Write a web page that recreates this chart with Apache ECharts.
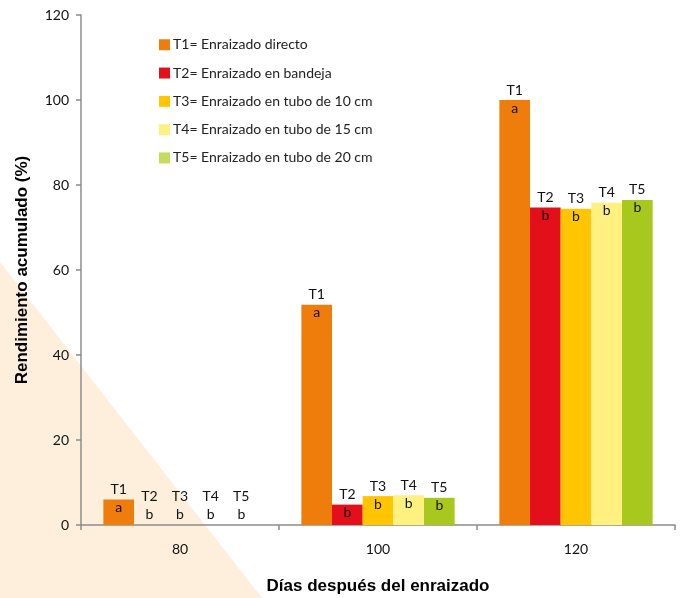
<!DOCTYPE html>
<html>
<head>
<meta charset="utf-8">
<script src="https://cdn.jsdelivr.net/npm/echarts@6/dist/echarts.min.js"></script>
<style>html,body{margin:0;padding:0;background:#fff}#c{width:682px;height:598px}</style>
</head>
<body>
<div id="c"></div>
<script>
const categories = ['80', '100', '120'];
const seriesNames = ['T1= Enraizado directo', 'T2= Enraizado en bandeja', 'T3= Enraizado en tubo de 10 cm', 'T4= Enraizado en tubo de 15 cm', 'T5= Enraizado en tubo de 20 cm'];
const shortNames = ['T1', 'T2', 'T3', 'T4', 'T5'];
const t1 = [6, 51.8, 100];
const t2 = [0, 4.8, 74.7];
const t3 = [0, 6.8, 74.4];
const t4 = [0, 7.0, 75.8];
const t5 = [0, 6.4, 76.5];
const letters = [
  ['a', 'a', 'a'],
  ['b', 'b', 'b'],
  ['b', 'b', 'b'],
  ['b', 'b', 'b'],
  ['b', 'b', 'b']
];
const yTicks = [0, 20, 40, 60, 80, 100, 120];
const colors = ['#EE7D0B', '#E30F1A', '#FFC600', '#FFF17F', '#A8C81E'];
const legendColors = ['#EE7D0B', '#E30F1A', '#FFC600', '#FFF17F', '#C4DB5C'];

const values = [t1, t2, t3, t4, t5];
const FONT = 'Lato';

const series = values.map((vals, si) => ({
  name: seriesNames[si],
  type: 'bar',
  barGap: '0%',
  barCategoryGap: '22.6%',
  itemStyle: { color: colors[si] },
  data: vals.map((v, ci) => ({
    value: v,
    label: {
      show: true,
      position: 'top',
      distance: v === 0 ? 2 : -17,
      formatter: shortNames[si] + '\n' + letters[si][ci],
      fontFamily: FONT,
      fontSize: 14,
      lineHeight: 18,
      color: '#111'
    }
  }))
}));

const chart = echarts.init(document.getElementById('c'));
chart.setOption({
  animation: false,
  backgroundColor: '#fff',
  graphic: [{
    type: 'polygon',
    z: -100,
    silent: true,
    shape: { points: [[0, 262], [0, 598], [262, 598]] },
    style: { fill: '#FDEFDB' }
  }],
  legend: {
    orient: 'vertical',
    left: 159,
    top: 36,
    padding: 0,
    itemWidth: 11,
    itemHeight: 11,
    itemGap: 10.8,
    icon: 'rect',
    textStyle: { fontFamily: FONT, fontSize: 14, color: '#222', padding: [0, 0, 0, -2], lineHeight: 17.5 },
    data: seriesNames.map((n, i) => ({ name: n, itemStyle: { color: legendColors[i] } }))
  },
  grid: { left: 81, right: 7, top: 15, bottom: 73, outerBoundsMode: 'none', containLabel: false },
  xAxis: {
    type: 'category',
    data: categories,
    name: 'Días después del enraizado',
    nameLocation: 'middle',
    nameGap: 53,
    nameTextStyle: { fontFamily: 'Liberation Sans', fontWeight: 'bold', fontSize: 17, color: '#000' },
    axisLine: { lineStyle: { color: '#8C8C8C', width: 1.5 } },
    axisTick: { show: true, length: 5, lineStyle: { color: '#8C8C8C', width: 1.5 } },
    axisLabel: { fontFamily: FONT, fontSize: 14, color: '#111', margin: 17 }
  },
  yAxis: {
    type: 'value',
    min: 0,
    max: 120,
    interval: 20,
    name: 'Rendimiento acumulado (%)',
    nameLocation: 'middle',
    nameGap: 50,
    nameRotate: 90,
    nameTextStyle: { fontFamily: 'Liberation Sans', fontWeight: 'bold', fontSize: 17, color: '#000' },
    axisLine: { show: true, lineStyle: { color: '#8C8C8C', width: 1.5 } },
    axisTick: { show: true, length: 5, lineStyle: { color: '#8C8C8C', width: 1.5 } },
    splitLine: { show: false },
    axisLabel: {
      fontFamily: FONT, fontSize: 14, color: '#111', margin: 12,
      formatter: v => yTicks.includes(v) ? String(v) : ''
    }
  },
  series: series
});
</script>
</body>
</html>
